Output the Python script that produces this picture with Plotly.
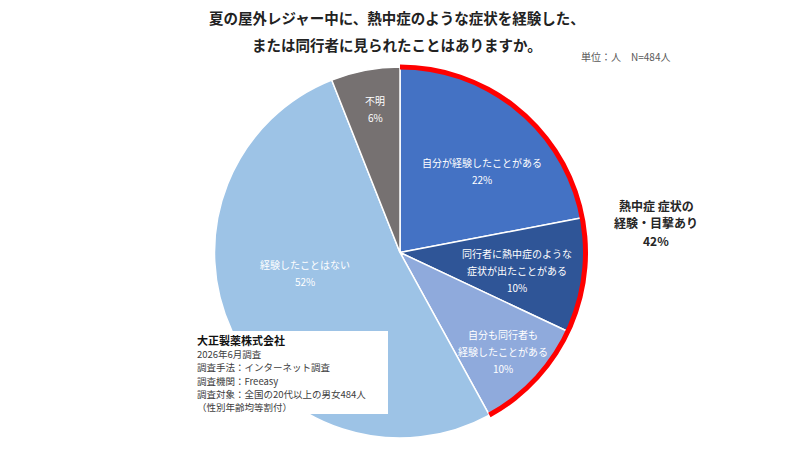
import plotly.graph_objects as go

# ---- data ----
categories = ["自分が経験したことがある", "同行者に熱中症のような症状が出たことがある",
              "自分も同行者も経験したことがある", "経験したことはない", "不明"]
label_lines = [["自分が経験したことがある"],
               ["同行者に熱中症のような", "症状が出たことがある"],
               ["自分も同行者も", "経験したことがある"],
               ["経験したことはない"],
               ["不明"]]
values = [22, 10, 10, 52, 6]
colors = ["#4472C4", "#2F5597", "#8FAADC", "#9DC3E6", "#767171"]
highlight_n = 3  # first three slices = experienced / witnessed
highlight_total = sum(values[:highlight_n])

title_lines = ["夏の屋外レジャー中に、熱中症のような症状を経験した、",
               "または同行者に見られたことはありますか。"]
unit_text = "単位：人　N=484人"
highlight_lines = ["熱中症 症状の", "経験・目撃あり", f"{highlight_total}%"]
source_title = "大正製薬株式会社"
source_lines = ["2026年6月調査", "調査手法：インターネット調査", "調査機関：Freeasy",
                "調査対象：全国の20代以上の男女484人", "（性別年齢均等割付）"]

# ---- layout helpers ----
W, H = 800, 449
FONT = "Noto Sans CJK JP, Noto Sans, sans-serif"


def px(x):
    return x / W


def py(y):
    return 1 - y / H


annotations = []


def add_lines(x, y_first, lines, spacing, size, color, bold=False, xanchor="center"):
    for i, t in enumerate(lines):
        annotations.append(dict(
            x=px(x), y=py(y_first + i * spacing), xref="paper", yref="paper",
            text=f"<b>{t}</b>" if bold else t, showarrow=False,
            xanchor=xanchor, yanchor="middle",
            font=dict(family=FONT, size=size, color=color)))


fig = go.Figure()

# main pie
cx, cy, R = 400, 252.5, 185.5
fig.add_trace(go.Pie(
    labels=categories, values=values, sort=False, direction="clockwise", rotation=0,
    marker=dict(colors=colors, line=dict(color="white", width=1.5)),
    textinfo="none", hoverinfo="label+percent", showlegend=False,
    domain=dict(x=[px(cx - R), px(cx + R)], y=[py(cy + R), py(cy - R)]),
))

# red highlight ring over first three slices
Ro, Ri = 188, 183
fig.add_trace(go.Pie(
    labels=["highlight", "rest"], values=[highlight_total, sum(values) - highlight_total],
    sort=False, direction="clockwise", rotation=0, hole=Ri / Ro,
    marker=dict(colors=["#FF0000", "rgba(0,0,0,0)"], line=dict(width=0)),
    textinfo="none", hoverinfo="skip", showlegend=False,
    domain=dict(x=[px(cx - Ro), px(cx + Ro)], y=[py(cy + Ro), py(cy - Ro)]),
))

# slice labels (positions are layout choices)
label_pos = [(482, 171), (517, 270), (503, 351), (305, 273), (375, 109)]
for (lx, ly), lines, v in zip(label_pos, label_lines, values):
    allL = lines + [f"{v}%"]
    spacing = 17
    y0 = ly - spacing * (len(allL) - 1) / 2
    add_lines(lx, y0, allL, spacing, 10, "white")

# title
add_lines(396.5, 18, title_lines[:1], 0, 14.5, "#222222", bold=True)
add_lines(396.5, 44, title_lines[1:], 0, 14.5, "#222222", bold=True)
add_lines(672, 57, [unit_text], 0, 10, "#595959", xanchor="right")

# highlight annotation
add_lines(656, 205, highlight_lines, 17.5, 12, "#262626", bold=True)

# source box
add_lines(195, 339.5, [source_title], 0, 11, "#111111", bold=True, xanchor="left")
add_lines(195, 354, source_lines, 13.3, 9.5, "#404040", xanchor="left")

fig.update_layout(
    width=W, height=H, margin=dict(l=0, r=0, t=0, b=0),
    paper_bgcolor="white", plot_bgcolor="white",
    annotations=annotations,
    shapes=[dict(type="rect", xref="paper", yref="paper", layer="above",
                 x0=px(192), x1=px(388), y0=py(414), y1=py(331),
                 fillcolor="white", line=dict(width=0))],
)

fig.write_html("out.html")
